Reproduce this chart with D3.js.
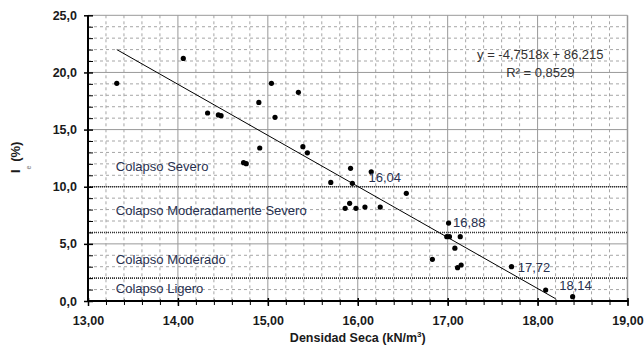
<!DOCTYPE html>
<html><head><meta charset="utf-8">
<script src="https://cdn.jsdelivr.net/npm/d3@7"></script>
<style>html,body{margin:0;padding:0;background:#fff;}svg{display:block;font-family:"Liberation Sans",Arial,sans-serif;}</style>
</head><body>
<svg id="c" width="644" height="348"></svg>
<script>
// ---- data ----
const density = [13.32,14.06,14.33,14.45,14.48,14.73,14.76,14.90,14.91,15.04,15.08,15.34,15.39,15.44,15.70,15.92,15.94,16.15,15.91,15.86,15.98,16.08,16.25,16.54,17.01,16.99,17.02,17.14,17.08,16.83,17.15,17.11,17.71,18.09,18.39];
const collapseIdx = [19.05,21.23,16.45,16.28,16.22,12.10,12.02,17.38,13.39,19.05,16.07,18.26,13.50,12.97,10.38,11.61,10.30,11.31,8.55,8.11,8.11,8.22,8.22,9.42,6.82,5.63,5.63,5.63,4.62,3.65,3.15,2.92,3.00,0.96,0.38];
const trendX = [13.32, 18.20];
const trendY = [22.0, 0.2];
const thresholds = [10, 6, 2];
const zoneNames = ["Colapso Severo","Colapso Moderadamente Severo","Colapso Moderado","Colapso Ligero"];
const zoneLabelX = [13.31,13.31,13.31,13.31];
const zoneLabelY = [11.4,7.5,3.24,0.7];
const crossLabels = ["16,04","16,88","17,72","18,14"];
const crossLabelX = [16.12,17.06,17.78,18.24];
const crossLabelY = [10.41,6.45,2.56,0.96];
const eqLines = ["y = -4,7518x + 86,215","R² = 0,8529"];
const eqX = 18.03;
const eqY = [21.15,19.57];
const xTicks = [13,14,15,16,17,18,19];
const yTicks = [0,5,10,15,20,25];

const fmtX = d => d.toFixed(2).replace(".",",");
const fmtY = d => d.toFixed(1).replace(".",",");

const svg = d3.select("#c");
const x = d3.scaleLinear().domain([13,19]).range([88,627.5]);
const y = d3.scaleLinear().domain([0,25]).range([301,15.3]);

// minor grid
const g = svg.append("g");
const xMinor = d3.range(13,19.001,0.2).filter(v=>Math.abs(v-Math.round(v))>1e-6);
const yMinor = d3.range(0,25.001,1).filter(v=>v%5!==0);
g.selectAll(".xm").data(xMinor).join("line")
  .attr("x1",d=>x(d)).attr("x2",d=>x(d)).attr("y1",y(25)).attr("y2",y(0))
  .attr("stroke","#a6a6a6").attr("stroke-width",1).attr("stroke-dasharray","3,3");
g.selectAll(".ym").data(yMinor).join("line")
  .attr("x1",x(13)).attr("x2",x(19)).attr("y1",d=>y(d)).attr("y2",d=>y(d))
  .attr("stroke","#a6a6a6").attr("stroke-width",1).attr("stroke-dasharray","3,3");
// major grid
g.selectAll(".xM").data(xTicks.slice(1)).join("line")
  .attr("x1",d=>x(d)).attr("x2",d=>x(d)).attr("y1",y(25)).attr("y2",y(0))
  .attr("stroke","#999").attr("stroke-width",d=>d===19?1.5:1);
g.selectAll(".yM").data(yTicks.slice(1)).join("line")
  .attr("x1",x(13)).attr("x2",x(19)).attr("y1",d=>y(d)).attr("y2",d=>y(d))
  .attr("stroke","#999").attr("stroke-width",1);

// thresholds
svg.selectAll(".th").data(thresholds).join("line")
  .attr("x1",x(13)).attr("x2",x(19)).attr("y1",d=>y(d)).attr("y2",d=>y(d))
  .attr("stroke","#333").attr("stroke-width",1.6).attr("stroke-dasharray","1,1");

// zone labels
svg.selectAll(".zl").data(zoneNames).join("text")
  .attr("x",(d,i)=>x(zoneLabelX[i])).attr("y",(d,i)=>y(zoneLabelY[i]))
  .attr("font-size",13).attr("fill","#27304f").text(d=>d);

// trend line
svg.append("line")
  .attr("x1",x(trendX[0])).attr("y1",y(trendY[0]))
  .attr("x2",x(trendX[1])).attr("y2",y(trendY[1]))
  .attr("stroke","#000").attr("stroke-width",1);

// points
svg.selectAll(".pt").data(density).join("circle")
  .attr("cx",d=>x(d)).attr("cy",(d,i)=>y(collapseIdx[i])).attr("r",2.6).attr("fill","#000");

// crossing labels
svg.selectAll(".cl").data(crossLabels).join("text")
  .attr("x",(d,i)=>x(crossLabelX[i])).attr("y",(d,i)=>y(crossLabelY[i]))
  .attr("font-size",13).attr("fill","#27304f").text(d=>d);

// equation
svg.selectAll(".eq").data(eqLines).join("text")
  .attr("x",x(eqX)).attr("y",(d,i)=>y(eqY[i])).attr("text-anchor","middle")
  .attr("font-size",13).attr("fill","#333").text(d=>d);

// axes
const xAxisG = svg.append("g").attr("transform",`translate(0,${y(0)})`);
xAxisG.call(d3.axisBottom(x).tickValues(d3.range(13,19.001,0.2)).tickSize(4).tickFormat(""))
  .call(a=>a.select(".domain").remove())
  .call(a=>a.selectAll(".tick line").attr("y1",-1.5).attr("stroke","#000").attr("stroke-width",1));
xAxisG.call(g2=>g2.append("g").call(d3.axisBottom(x).tickValues(xTicks).tickSize(5).tickFormat(fmtX))
  .call(a=>a.select(".domain").remove())
  .call(a=>a.selectAll(".tick line").attr("y1",-3).attr("stroke","#000").attr("stroke-width",1.5))
  .call(a=>a.selectAll(".tick text").attr("dy",0).attr("y",24).attr("font-size",12.5).attr("font-weight","bold")
        .attr("fill","#1a1a1a").attr("font-family","Liberation Sans, Arial, sans-serif")));
xAxisG.append("line").attr("x1",x(13)-1).attr("x2",x(19)+1).attr("stroke","#000").attr("stroke-width",2);

const yAxisG = svg.append("g").attr("transform",`translate(${x(13)},0)`);
yAxisG.call(d3.axisRight(y).tickValues(yMinor).tickSize(5).tickFormat(""))
  .call(a=>a.select(".domain").remove())
  .call(a=>a.selectAll(".tick line").attr("stroke","#000").attr("stroke-width",1));
yAxisG.call(g2=>g2.append("g").call(d3.axisLeft(y).tickValues(yTicks).tickSize(4).tickFormat(fmtY))
  .call(a=>a.select(".domain").remove())
  .call(a=>a.selectAll(".tick line").attr("x1",5).attr("stroke","#000").attr("stroke-width",1.5))
  .call(a=>a.selectAll(".tick text").attr("x",-11).attr("font-size",12.5).attr("font-weight","bold")
        .attr("fill","#1a1a1a").attr("font-family","Liberation Sans, Arial, sans-serif")));
yAxisG.append("line").attr("y1",y(0)+1).attr("y2",y(25)).attr("stroke","#000").attr("stroke-width",2);

// axis titles
const xt = svg.append("text").attr("x",(x(13)+x(19))/2).attr("y",342).attr("text-anchor","middle")
  .attr("font-size",12.5).attr("font-weight","bold").attr("fill","#1a1a1a");
xt.append("tspan").text("Densidad Seca (kN/m");
xt.append("tspan").attr("font-size",8).attr("dy",-5).text("3");
xt.append("tspan").attr("dy",5).text(")");

const yt = svg.append("text").attr("transform","translate(20,173) rotate(-90)")
  .attr("font-size",13).attr("font-weight","bold").attr("fill","#1a1a1a");
yt.append("tspan").text("I");
yt.append("tspan").attr("font-size",7).attr("dy",11).attr("fill","#999").text("e");
yt.append("tspan").attr("dy",-11).text(" (%)");
</script>
</body></html>
